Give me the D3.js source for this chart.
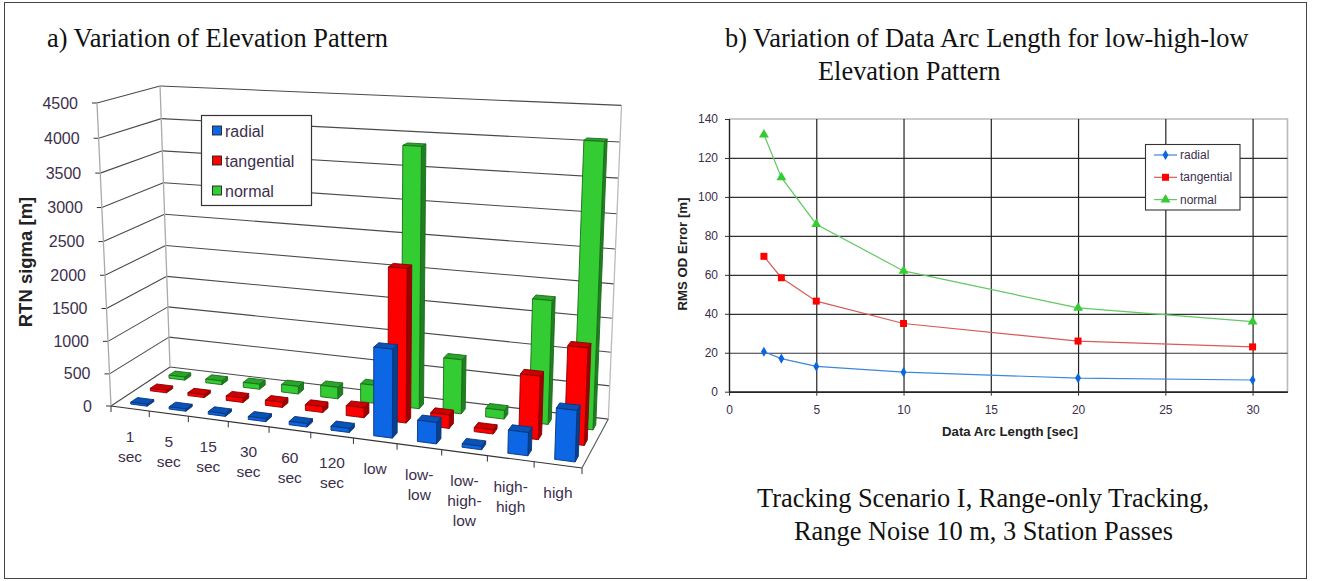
<!DOCTYPE html>
<html>
<head>
<meta charset="utf-8">
<script src="https://d3js.org/d3.v7.min.js"></script>
<style>
  body { margin: 0; background: #fff; }
  text { font-family: "Liberation Sans", Arial, sans-serif; fill: #3d2f4c; }
  .serif { font-family: "Liberation Serif", serif; fill: #111; font-size: 26.4px; }
</style>
</head>
<body>
<div id="chart"></div>
<script>
// values
const categories = ["1 sec", "5 sec", "15 sec", "30 sec", "60 sec", "120 sec", "low", "low-low", "low-high-low", "high-high", "high"];
const categoryLines = [["1", "sec"], ["5", "sec"], ["15", "sec"], ["30", "sec"], ["60", "sec"], ["120", "sec"], ["low"], ["low-", "low"], ["low-", "high-", "low"], ["high-", "high"], ["high"]];
const radialSigma = [30, 35, 40, 45, 50, 60, 1290, 310, 50, 330, 720];
const tangentialSigma = [40, 45, 70, 80, 90, 150, 2270, 200, 60, 920, 1390];
const normalSigma = [50, 60, 80, 120, 180, 280, 3880, 820, 130, 1820, 4080];
const sigmaTicks = [0, 500, 1000, 1500, 2000, 2500, 3000, 3500, 4000, 4500];

const arcLength = [2, 3, 5, 10, 20, 30];
const radialError = [20.5, 17, 13, 10, 7, 6];
const tangentialError = [69.5, 58.5, 46.5, 35, 26, 23];
const normalError = [132, 110, 86, 62, 43, 36];

const seriesNames = ["radial", "tangential", "normal"];
const barColors = ["#0d66e4", "#ff0000", "#33cc33"];
const lineColors = ["#3f86dc", "#d85a5a", "#62c862"];
const markerColors = ["#0b66e0", "#ff0000", "#33cc33"];

const svg = d3.select("#chart").append("svg")
  .attr("width", 1317)
  .attr("height", 581)
  .style("display", "block");

// outer frame
svg.append("rect")
  .attr("x", 4.5).attr("y", 2.5)
  .attr("width", 1302).attr("height", 576)
  .attr("fill", "none").attr("stroke", "#444").attr("stroke-width", 1);

// titles
const titles = [
  ["a) Variation of Elevation Pattern", 47, 47],
  ["b) Variation of Data Arc Length for low-high-low", 725, 47],
  ["Elevation Pattern", 818, 80],
  ["Tracking Scenario I, Range-only Tracking,", 757, 507],
  ["Range Noise 10 m, 3 Station Passes", 794, 540]
];
svg.selectAll("text.serif").data(titles).enter().append("text")
  .attr("class", "serif")
  .attr("x", d => d[1])
  .attr("y", d => d[2])
  .text(d => d[0]);

// ---------- left chart, a 3D column chart pushed through a perspective map ----------
const corner = {
  origin: [111, 406],
  right: [582, 468],
  back: [170, 367],
  top: [97, 103]
};
const persp = { u: -0.116, v: 0.0815, h: -0.051 };

// u, v, h all run from 0 to 1: along categories, into the page, up the value axis
function project(u, v, h) {
  const w = 1 + persp.u * u + persp.v * v + persp.h * h;
  return [0, 1].map(i => (corner.origin[i]
    + u * (corner.right[i] * (1 + persp.u) - corner.origin[i])
    + v * (corner.back[i] * (1 + persp.v) - corner.origin[i])
    + h * (corner.top[i] * (1 + persp.h) - corner.origin[i])) / w);
}

const uScale = d3.scaleBand().domain(categories).range([0.008, 1.008]).paddingInner(0.57).paddingOuter(0.285);
const vScale = d3.scaleBand().domain(seriesNames).range([-0.03, 0.97]).paddingInner(0.66).paddingOuter(0.37);
const hScale = d3.scaleLinear().domain([0, 4500]).range([0, 1]);

const walls = svg.append("g");
const segment = (a, b) => walls.append("line")
  .attr("x1", a[0]).attr("y1", a[1]).attr("x2", b[0]).attr("y2", b[1]);

// gridlines on the left and back walls
sigmaTicks.forEach(t => {
  const h = hScale(t);
  segment(project(0, 0, h), project(0, 1, h)).attr("stroke", "#4a4a4a").attr("stroke-width", 1.1);
  segment(project(0, 1, h), project(1, 1, h)).attr("stroke", "#4a4a4a").attr("stroke-width", 1.1);
  const p = project(0, 0, h);
  segment([p[0] - 5, p[1]], p).attr("stroke", "#333");
  svg.append("text")
    .attr("x", p[0] - 19).attr("y", p[1] + 5.5)
    .attr("text-anchor", "end")
    .style("font-size", "16px")
    .text(t);
});

// wall uprights and floor edges
segment(project(0, 0, 0), project(0, 0, 1)).attr("stroke", "#aaa").attr("stroke-width", 1.3);
segment(project(0, 1, 0), project(0, 1, 1)).attr("stroke", "#aaa").attr("stroke-width", 1.3);
segment(project(1, 1, 0), project(1, 1, 1)).attr("stroke", "#bbb").attr("stroke-width", 1.3);
segment(project(0, 0, 0), project(1, 0, 0)).attr("stroke", "#333").attr("stroke-width", 1.2);
segment(project(1, 0, 0), project(1, 1, 0)).attr("stroke", "#555").attr("stroke-width", 1.1);

// ticks and labels along the front floor edge
d3.range(categories.length + 1).forEach(i => {
  const p = project(uScale.step() * i, 0, 0);
  segment(p, [p[0], p[1] + 6]).attr("stroke", "#333");
});
categoryLines.forEach((lines, i) => {
  const p = project(uScale.step() * (i + 0.5), 0, 0);
  svg.append("text")
    .attr("text-anchor", "middle")
    .style("font-size", "15.5px")
    .selectAll("tspan").data(lines).enter().append("tspan")
    .attr("x", p[0])
    .attr("y", (d, j) => p[1] + 33 + j * 20)
    .text(d => d);
});

// bars, back row first so the nearer ones cover them
const sigmaSeries = [radialSigma, tangentialSigma, normalSigma];
const polyPoints = pts => pts.map(p => p.join(",")).join(" ");
const bars = svg.append("g");
[2, 1, 0].forEach(s => {
  const base = d3.color(barColors[s]);
  const edge = base.darker(1.8).formatHex();
  categories.forEach((c, i) => {
    const u0 = uScale(c), u1 = u0 + uScale.bandwidth();
    const v0 = vScale(seriesNames[s]), v1 = v0 + vScale.bandwidth();
    const h = hScale(sigmaSeries[s][i]);
    const faces = [
      [[[u1, v0, 0], [u1, v1, 0], [u1, v1, h], [u1, v0, h]], base.darker(1.3).formatHex()],
      [[[u0, v0, h], [u1, v0, h], [u1, v1, h], [u0, v1, h]], base.darker(0.6).formatHex()],
      [[[u0, v0, 0], [u1, v0, 0], [u1, v0, h], [u0, v0, h]], barColors[s]]
    ];
    faces.forEach(f => {
      bars.append("polygon")
        .attr("points", polyPoints(f[0].map(q => project(q[0], q[1], q[2]))))
        .attr("fill", f[1])
        .attr("stroke", edge)
        .attr("stroke-width", 0.9)
        .attr("stroke-linejoin", "round");
    });
  });
});

// y title
svg.append("text")
  .attr("transform", "translate(32,262) rotate(-90)")
  .attr("text-anchor", "middle")
  .style("font-size", "18.5px")
  .style("font-weight", "bold")
  .style("fill", "#222")
  .text("RTN sigma [m]");

// left legend
const legendA = svg.append("g");
legendA.append("rect")
  .attr("x", 201.5).attr("y", 115.5).attr("width", 110).attr("height", 90)
  .attr("fill", "#fff").attr("stroke", "#333").attr("stroke-width", 1.2);
seriesNames.forEach((name, i) => {
  legendA.append("rect")
    .attr("x", 212.5).attr("y", 126 + i * 30).attr("width", 9).attr("height", 9)
    .attr("fill", barColors[i]).attr("stroke", "#222").attr("stroke-width", 0.9);
  legendA.append("text")
    .attr("x", 225).attr("y", 136.5 + i * 30)
    .style("font-size", "16px")
    .text(name);
});

// ---------- right chart, plain line chart ----------
const x = d3.scaleLinear().domain([0, 32]).range([729, 1287.5]);
const y = d3.scaleLinear().domain([0, 140]).range([391.7, 119]);

const plotFrame = svg.append("g");
plotFrame.append("path")
  .attr("d", `M${x(0)},${y(140)}H${x(32)}V${y(0)}`)
  .attr("fill", "none").attr("stroke", "#bbb").attr("stroke-width", 1.6);

const yAxis = svg.append("g")
  .attr("transform", `translate(${x(0)},0)`)
  .call(d3.axisLeft(y).tickValues(d3.range(0, 141, 20)).tickSizeInner(-(x(32) - x(0))).tickSizeOuter(0).tickPadding(11));
yAxis.selectAll(".tick line").attr("stroke", "#333").attr("stroke-width", 1.2);
yAxis.selectAll(".tick").filter(d => d === 140).select("line").attr("stroke", "none");
yAxis.selectAll(".tick").append("line")
  .attr("x1", -4).attr("x2", 0).attr("stroke", "#333");

const xAxis = svg.append("g")
  .attr("transform", `translate(0,${y(0)})`)
  .call(d3.axisBottom(x).tickValues(d3.range(0, 31, 5)).tickSizeInner(-(y(0) - y(140))).tickSizeOuter(0).tickPadding(14));
xAxis.selectAll(".tick line").attr("stroke", "#222").attr("stroke-width", 1.2);
xAxis.selectAll(".tick").append("line")
  .attr("y1", 0).attr("y2", 4).attr("stroke", "#333");
svg.selectAll(".domain").attr("stroke", "#111").attr("stroke-width", 1.2);
svg.selectAll(".tick text")
  .style("font-family", '"Liberation Sans", Arial, sans-serif')
  .style("font-size", "12px");

const errorSeries = [radialError, tangentialError, normalError];
const markers = [d3.symbolDiamond, d3.symbolSquare, d3.symbolTriangle];
const markerSizes = [30, 49, 42];
const line = d3.line().x((d, i) => x(arcLength[i])).y(d => y(d));

errorSeries.forEach((values, s) => {
  svg.append("path")
    .attr("d", line(values))
    .attr("fill", "none")
    .attr("stroke", lineColors[s])
    .attr("stroke-width", 1.2);
  svg.selectAll(null).data(values).enter().append("path")
    .attr("d", d3.symbol().type(markers[s]).size(markerSizes[s]))
    .attr("transform", (d, i) => `translate(${x(arcLength[i])},${y(d)})`)
    .attr("fill", markerColors[s]);
});

svg.append("text")
  .attr("x", 1010).attr("y", 436)
  .attr("text-anchor", "middle")
  .style("font-size", "13.2px").style("font-weight", "bold").style("fill", "#222")
  .text("Data Arc Length [sec]");
svg.append("text")
  .attr("transform", "translate(687,254) rotate(-90)")
  .attr("text-anchor", "middle")
  .style("font-size", "13.2px").style("font-weight", "bold").style("fill", "#222")
  .text("RMS OD Error [m]");

// right legend
const legendB = svg.append("g");
legendB.append("rect")
  .attr("x", 1145.5).attr("y", 144.5).attr("width", 94.5).attr("height", 65.5)
  .attr("fill", "#fff").attr("stroke", "#333").attr("stroke-width", 1.1);
seriesNames.forEach((name, i) => {
  const ly = 155 + i * 22.3;
  legendB.append("line")
    .attr("x1", 1154).attr("x2", 1177).attr("y1", ly).attr("y2", ly)
    .attr("stroke", lineColors[i]).attr("stroke-width", 1.2);
  legendB.append("path")
    .attr("d", d3.symbol().type(markers[i]).size(markerSizes[i]))
    .attr("transform", `translate(1165.5,${ly})`)
    .attr("fill", markerColors[i]);
  legendB.append("text")
    .attr("x", 1180).attr("y", ly + 4)
    .style("font-size", "12px")
    .text(name);
});
</script>
</body>
</html>
